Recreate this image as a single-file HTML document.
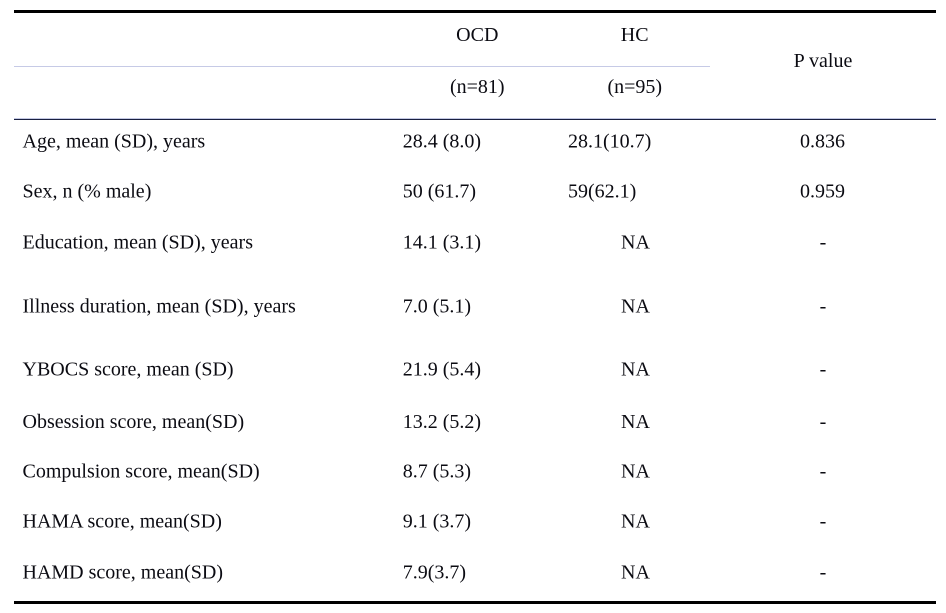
<!DOCTYPE html>
<html>
<head>
<meta charset="utf-8">
<style>
  html, body { margin: 0; padding: 0; background: #ffffff; }
  svg { display: block; }
  text { font-family: "Liberation Serif", "Times New Roman", serif; font-size: 20px; fill: #0b0b12; }
</style>
</head>
<body>
<svg width="946" height="613" viewBox="0 0 946 613" xmlns="http://www.w3.org/2000/svg">
  <rect x="0" y="0" width="946" height="613" fill="#ffffff"/>
  <!-- rules -->
  <rect x="14" y="10" width="922" height="3" fill="#000000"/>
  <rect x="14" y="66" width="696" height="1" fill="#c6cae6"/>
  <rect x="14" y="118" width="922" height="1" fill="#c4c9e4"/>
  <rect x="14" y="119" width="922" height="1" fill="#1a2040"/>
  <rect x="14" y="601" width="922" height="3" fill="#000000"/>

  <!-- header -->
  <text x="477.3" y="41" text-anchor="middle">OCD</text>
  <text x="634.7" y="41" text-anchor="middle">HC</text>
  <text x="477.3" y="93" text-anchor="middle">(n=81)</text>
  <text x="634.8" y="93" text-anchor="middle">(n=95)</text>
  <text x="823" y="67" text-anchor="middle">P value</text>

  <!-- rows -->
  <text x="22.5" y="147.7">Age, mean (SD), years</text>
  <text x="402.7" y="147.7">28.4 (8.0)</text>
  <text x="568" y="147.7">28.1(10.7)</text>
  <text x="822.5" y="147.7" text-anchor="middle">0.836</text>

  <text x="22.5" y="197.7">Sex, n (% male)</text>
  <text x="402.7" y="197.7">50 (61.7)</text>
  <text x="568" y="197.7">59(62.1)</text>
  <text x="822.5" y="197.7" text-anchor="middle">0.959</text>

  <text x="22.5" y="248.3">Education, mean (SD), years</text>
  <text x="402.7" y="248.3">14.1 (3.1)</text>
  <text x="635.5" y="248.3" text-anchor="middle">NA</text>
  <text x="823" y="248.3" text-anchor="middle">-</text>

  <text x="22.5" y="312.3">Illness duration, mean (SD), years</text>
  <text x="402.7" y="312.3">7.0 (5.1)</text>
  <text x="635.5" y="312.3" text-anchor="middle">NA</text>
  <text x="823" y="312.3" text-anchor="middle">-</text>

  <text x="22.5" y="375.7">YBOCS score, mean (SD)</text>
  <text x="402.7" y="375.7">21.9 (5.4)</text>
  <text x="635.5" y="375.7" text-anchor="middle">NA</text>
  <text x="823" y="375.7" text-anchor="middle">-</text>

  <text x="22.5" y="428">Obsession score, mean(SD)</text>
  <text x="402.7" y="428">13.2 (5.2)</text>
  <text x="635.5" y="428" text-anchor="middle">NA</text>
  <text x="823" y="428" text-anchor="middle">-</text>

  <text x="22.5" y="477.5">Compulsion score, mean(SD)</text>
  <text x="402.7" y="477.5">8.7 (5.3)</text>
  <text x="635.5" y="477.5" text-anchor="middle">NA</text>
  <text x="823" y="477.5" text-anchor="middle">-</text>

  <text x="22.5" y="527.5">HAMA score, mean(SD)</text>
  <text x="402.7" y="527.5">9.1 (3.7)</text>
  <text x="635.5" y="527.5" text-anchor="middle">NA</text>
  <text x="823" y="527.5" text-anchor="middle">-</text>

  <text x="22.5" y="578.3">HAMD score, mean(SD)</text>
  <text x="402.7" y="578.3">7.9(3.7)</text>
  <text x="635.5" y="578.3" text-anchor="middle">NA</text>
  <text x="823" y="578.3" text-anchor="middle">-</text>
</svg>
</body>
</html>
